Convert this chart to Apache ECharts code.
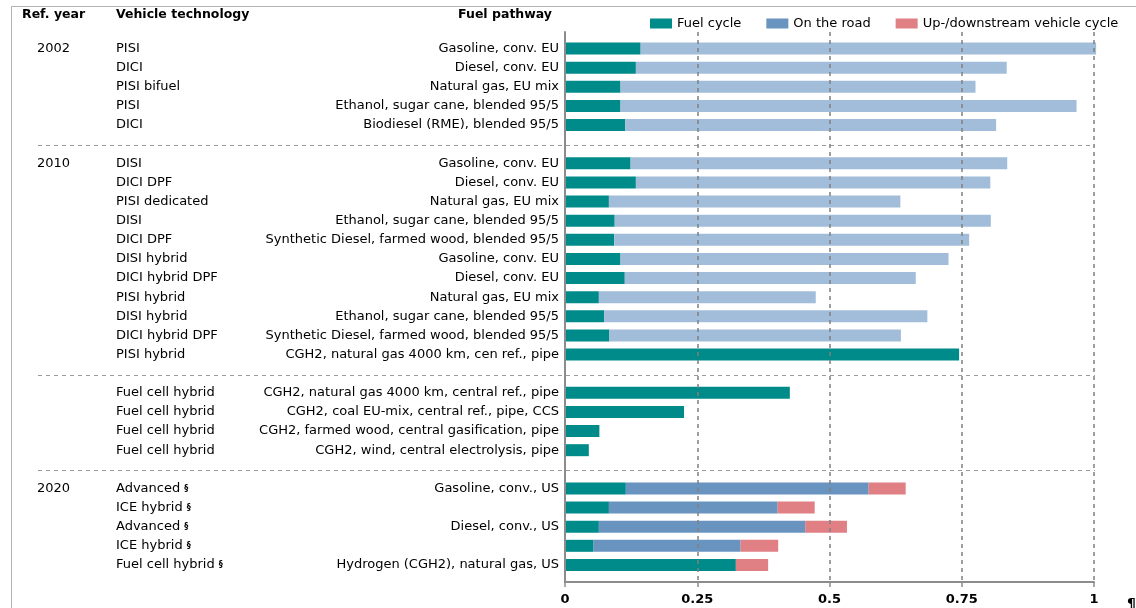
<!DOCTYPE html>
<html>
<head>
<meta charset="utf-8">
<title>Vehicle pathways</title>
<script src="https://cdn.jsdelivr.net/npm/echarts@6/dist/echarts.min.js"></script>
<style>
  html, body { margin: 0; padding: 0; background: #fff; }
  #chart { width: 1136px; height: 608px; }
</style>
</head>
<body>
<div id="chart"></div>
<script>
// one entry per row, top to bottom; a row with no technology is an empty spacer
const refYear = [
  '2002', '', '', '', '',
  '',
  '2010', '', '', '', '', '', '', '', '', '', '',
  '',
  '', '', '', '',
  '',
  '2020', '', '', '', ''
];
const technology = [
  'PISI', 'DICI', 'PISI bifuel', 'PISI', 'DICI',
  '',
  'DISI', 'DICI DPF', 'PISI dedicated', 'DISI', 'DICI DPF', 'DISI hybrid',
  'DICI hybrid DPF', 'PISI hybrid', 'DISI hybrid', 'DICI hybrid DPF', 'PISI hybrid',
  '',
  'Fuel cell hybrid', 'Fuel cell hybrid', 'Fuel cell hybrid', 'Fuel cell hybrid',
  '',
  'Advanced §', 'ICE hybrid §', 'Advanced §', 'ICE hybrid §', 'Fuel cell hybrid §'
];
const pathway = [
  'Gasoline, conv. EU', 'Diesel, conv. EU', 'Natural gas, EU mix',
  'Ethanol, sugar cane, blended 95/5', 'Biodiesel (RME), blended 95/5',
  '',
  'Gasoline, conv. EU', 'Diesel, conv. EU', 'Natural gas, EU mix',
  'Ethanol, sugar cane, blended 95/5', 'Synthetic Diesel, farmed wood, blended 95/5',
  'Gasoline, conv. EU', 'Diesel, conv. EU', 'Natural gas, EU mix',
  'Ethanol, sugar cane, blended 95/5', 'Synthetic Diesel, farmed wood, blended 95/5',
  'CGH2, natural gas 4000 km, cen ref., pipe',
  '',
  'CGH2, natural gas 4000 km, central ref., pipe', 'CGH2, coal EU-mix, central ref., pipe, CCS',
  'CGH2, farmed wood, central gasification, pipe', 'CGH2, wind, central electrolysis, pipe',
  '',
  'Gasoline, conv., US', '', 'Diesel, conv., US', '', 'Hydrogen (CGH2), natural gas, US'
];
const fuelCycle = [
  0.143, 0.134, 0.105, 0.105, 0.114,
  null,
  0.124, 0.134, 0.083, 0.094, 0.093, 0.105, 0.113, 0.064, 0.074, 0.084, 0.745,
  null,
  0.425, 0.225, 0.065, 0.045,
  null,
  0.115, 0.083, 0.064, 0.054, 0.323
];
const onRoad = [
  0.861, 0.701, 0.671, 0.862, 0.701,
  null,
  0.712, 0.670, 0.551, 0.711, 0.671, 0.620, 0.550, 0.410, 0.611, 0.551, 0,
  null,
  0, 0, 0, 0,
  null,
  0.459, 0.319, 0.390, 0.278, 0
];
const upDown = [
  0, 0, 0, 0, 0,
  null,
  0, 0, 0, 0, 0, 0, 0, 0, 0, 0, 0,
  null,
  0, 0, 0, 0,
  null,
  0.070, 0.070, 0.079, 0.071, 0.061
];
const seriesNames = ['Fuel cycle', 'On the road', 'Up-/downstream vehicle cycle'];

const FONT = 'DejaVu Sans';
const rows = technology.map((t, i) => String(i));

// 2002 / 2010 reference rows get the pale "on the road" shade
let curYear = '';
const paleRow = technology.map((t, i) => {
  if (t === '') curYear = '';
  else if (refYear[i]) curYear = refYear[i];
  return curYear === '2002' || curYear === '2010';
});

function catAxis(labels, margin, align, extra) {
  return Object.assign({
    type: 'category', gridIndex: 0, position: 'left', inverse: true, data: rows,
    axisLine: { show: false }, axisTick: { show: false }, splitLine: { show: false },
    axisLabel: {
      interval: 0, margin: margin, align: align, color: '#000',
      fontFamily: FONT, fontSize: 13,
      formatter: (v) => labels[+v]
    }
  }, extra || {});
}

const techAxis = catAxis(technology, 449, 'left');
techAxis.axisLabel.formatter = (v) => {
  const t = technology[+v];
  return t.endsWith(' §') ? t.slice(0, -2) + ' {s|§}' : t;
};
techAxis.axisLabel.rich = { s: { fontSize: 8, fontWeight: 'bold', fontFamily: FONT, color: '#000' } };

const chart = echarts.init(document.getElementById('chart'));
const option = {
  animation: false,
  textStyle: { fontFamily: FONT },
  legend: {
    data: seriesNames, left: 645, top: 12,
    icon: 'rect', itemWidth: 22, itemHeight: 10, itemGap: 25,
    textStyle: { fontFamily: FONT, fontSize: 13, color: '#000' }
  },
  grid: [
    { left: 565, right: 42, top: 39, bottom: 33.5 },   // bars
    { left: 565, right: 42, top: 32, bottom: 26 }      // full-height axes and grid lines
  ],
  xAxis: [
    { type: 'value', gridIndex: 0, min: 0, max: 1, show: false },
    {
      type: 'value', gridIndex: 1, min: 0, max: 1, interval: 0.25, z: 3,
      axisLine: { show: true, lineStyle: { color: '#8c8c8c', width: 2 } },
      axisTick: { show: true, length: 5, lineStyle: { color: '#8c8c8c', width: 1.5 } },
      axisLabel: { margin: 11, color: '#000', fontFamily: FONT, fontSize: 13, fontWeight: 'bold' },
      splitLine: { show: true, lineStyle: { color: '#808080', width: 1.5, type: [4, 4] } }
    }
  ],
  yAxis: [
    catAxis(pathway, 6, 'right'),
    techAxis,
    catAxis(refYear, 528, 'left'),
    {
      type: 'value', gridIndex: 1, min: 0, max: 1, position: 'left', z: 3,
      axisLine: { show: true, lineStyle: { color: '#8c8c8c', width: 2 } },
      axisTick: { show: false }, axisLabel: { show: false }, splitLine: { show: false }
    }
  ],
  series: [
    {
      name: seriesNames[0], type: 'bar', stack: 'total', barWidth: 12, clip: false,
      xAxisIndex: 0, yAxisIndex: 0,
      itemStyle: { color: '#008b8b' },
      data: fuelCycle
    },
    {
      name: seriesNames[1], type: 'bar', stack: 'total', barWidth: 12, clip: false,
      xAxisIndex: 0, yAxisIndex: 0,
      itemStyle: { color: '#6894bf' },
      data: onRoad.map((v, i) => paleRow[i] ? { value: v, itemStyle: { color: '#a2bdda' } } : v)
    },
    {
      name: seriesNames[2], type: 'bar', stack: 'total', barWidth: 12, clip: false,
      xAxisIndex: 0, yAxisIndex: 0,
      itemStyle: { color: '#e07f84' },
      data: upDown
    }
  ]
};
chart.setOption(option);

// dashed separators on the spacer rows, column headings, frame
const graphics = [
  {
    type: 'rect', silent: true,
    shape: { x: 11.5, y: 6.5, width: 1200, height: 700 },
    style: { fill: 'none', stroke: '#666', lineWidth: 1, lineDash: [1, 1] }
  },
  { type: 'text', x: 22, y: 15, style: { text: 'Ref. year', font: 'bold 12.5px "DejaVu Sans"', fill: '#000', verticalAlign: 'middle' } },
  { type: 'text', x: 116, y: 15, style: { text: 'Vehicle technology', font: 'bold 12.5px "DejaVu Sans"', fill: '#000', verticalAlign: 'middle' } },
  { type: 'text', x: 552, y: 15, style: { text: 'Fuel pathway', font: 'bold 12.5px "DejaVu Sans"', fill: '#000', align: 'right', verticalAlign: 'middle' } },
  { type: 'text', x: 1127, y: 604, style: { text: '¶', font: 'bold 14px "DejaVu Sans"', fill: '#000', verticalAlign: 'middle' } }
];
technology.forEach((t, i) => {
  if (t !== '') return;
  const y = Math.round(chart.convertToPixel({ yAxisIndex: 0 }, i)) + 1.5;
  graphics.push({
    type: 'line', silent: true, z: 1,
    shape: { x1: 38, y1: y, x2: 1095, y2: y },
    style: { stroke: '#999', lineWidth: 1, lineDash: [4, 4] }
  });
});
chart.setOption({ graphic: graphics });
</script>
</body>
</html>
